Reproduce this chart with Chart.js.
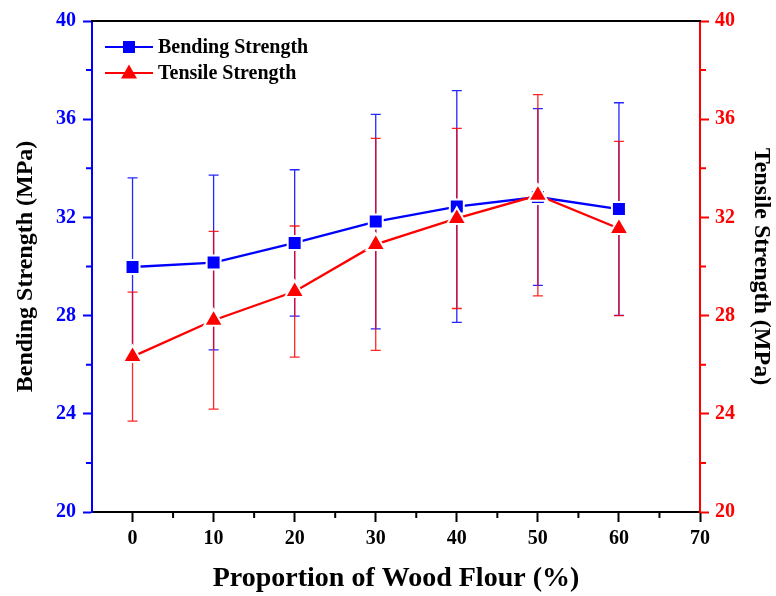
<!DOCTYPE html>
<html><head><meta charset="utf-8">
<script src="https://cdn.jsdelivr.net/npm/chart.js@4/dist/chart.umd.min.js"></script>
<style>html,body{margin:0;padding:0;background:#fff}canvas{display:block}</style>
</head><body>
<canvas id="c" width="776" height="596"></canvas>
<script>
const proportions = [0, 10, 20, 30, 40, 50, 60];
const bendingStrength = [29.98, 30.16, 30.96, 31.83, 32.44, 32.83, 32.34];
const bendingError = [3.63, 3.56, 2.98, 4.37, 4.72, 3.6, 4.33];
const tensileStrength = [26.33, 27.81, 28.98, 30.9, 31.96, 32.9, 31.55];
const tensileError = [2.63, 3.62, 2.67, 4.32, 3.67, 4.1, 3.55];
const xTickValues = [0, 10, 20, 30, 40, 50, 60, 70];
const yTickValues = [20, 24, 28, 32, 36, 40];
const seriesLabels = ['Bending Strength', 'Tensile Strength'];
const xTitle = 'Proportion of Wood Flour (%)';
const yTitle = 'Bending Strength (MPa)';
const y1Title = 'Tensile Strength (MPa)';

const SERIF = "'Liberation Serif', 'Times New Roman', serif";
const BLUE = '#0000FF', RED = '#FF0000';

const errorBarPlugin = {
  id: 'errorBars',
  beforeDatasetsDraw(chart) {
    const ctx = chart.ctx, xs = chart.scales.x;
    chart.data.datasets.forEach(ds => {
      if (!ds.errors) return;
      const ys = chart.scales[ds.yAxisID];
      ctx.save();
      ctx.strokeStyle = ds.borderColor;
      ctx.lineWidth = 1.3;
      ctx.globalAlpha = 0.85;
      ds.data.forEach((p, j) => {
        const x = xs.getPixelForValue(p.x);
        const yt = ys.getPixelForValue(p.y + ds.errors[j]);
        const yb = ys.getPixelForValue(p.y - ds.errors[j]);
        ctx.beginPath();
        ctx.moveTo(x, yt); ctx.lineTo(x, yb);
        ctx.moveTo(x - 5, yt); ctx.lineTo(x + 5, yt);
        ctx.moveTo(x - 5, yb); ctx.lineTo(x + 5, yb);
        ctx.stroke();
      });
      ctx.restore();
    });
  }
};

function marker(ctx, style, x, y, color) {
  ctx.fillStyle = color;
  ctx.beginPath();
  if (style === 'rect') {
    ctx.rect(x - 6, y - 6, 12, 12);
  } else {
    ctx.moveTo(x, y - 8.5); ctx.lineTo(x + 8, y + 5.5); ctx.lineTo(x - 8, y + 5.5); ctx.closePath();
  }
  ctx.fill();
}

const framePlugin = {
  id: 'frame',
  afterDraw(chart) {
    const ctx = chart.ctx, a = chart.chartArea, s = chart.scales;
    ctx.save();
    ctx.lineWidth = 2;
    ctx.strokeStyle = '#000';
    ctx.beginPath(); ctx.moveTo(a.left - 1, a.top); ctx.lineTo(a.right + 1, a.top); ctx.stroke();
    ctx.beginPath();
    for (let i = 0; i < xTickValues.length - 1; i++) {
      const px = s.x.getPixelForValue((xTickValues[i] + xTickValues[i + 1]) / 2);
      ctx.moveTo(px, a.bottom); ctx.lineTo(px, a.bottom + 6);
    }
    ctx.stroke();
    ctx.strokeStyle = BLUE;
    ctx.beginPath();
    for (let i = 0; i < yTickValues.length - 1; i++) {
      const py = s.y.getPixelForValue((yTickValues[i] + yTickValues[i + 1]) / 2);
      ctx.moveTo(a.left, py); ctx.lineTo(a.left - 6, py);
    }
    ctx.stroke();
    ctx.strokeStyle = RED;
    ctx.beginPath();
    for (let i = 0; i < yTickValues.length - 1; i++) {
      const py = s.y1.getPixelForValue((yTickValues[i] + yTickValues[i + 1]) / 2);
      ctx.moveTo(a.right, py); ctx.lineTo(a.right + 6, py);
    }
    ctx.stroke();
    const styles = ['rect', 'triangle'];
    const colors = [BLUE, RED];
    ctx.font = 'bold 20px ' + SERIF;
    ctx.textBaseline = 'middle';
    ctx.textAlign = 'left';
    seriesLabels.forEach((lab, i) => {
      const y = a.top + 26 + i * 26;
      ctx.strokeStyle = colors[i];
      ctx.lineWidth = 2;
      ctx.beginPath(); ctx.moveTo(a.left + 13, y); ctx.lineTo(a.left + 61, y); ctx.stroke();
      marker(ctx, styles[i], a.left + 37, y, colors[i]);
      ctx.fillStyle = '#000';
      ctx.fillText(lab, a.left + 66, y + 1);
    });
    ctx.restore();
  }
};

const tickFont = { family: SERIF, size: 20, weight: 'bold' };
const titleFont = { family: SERIF, size: 24, weight: 'bold' };

new Chart(document.getElementById('c'), {
  type: 'line',
  data: {
    datasets: [
      {
        label: seriesLabels[0],
        data: proportions.map((x, i) => ({ x, y: bendingStrength[i] })),
        errors: bendingError,
        yAxisID: 'y',
        order: 1,
        borderColor: BLUE, backgroundColor: BLUE,
        borderWidth: 2.3,
        pointStyle: 'rect', pointRadius: 9.9,
        pointBackgroundColor: BLUE, pointBorderColor: '#fff', pointBorderWidth: 2,
        tension: 0
      },
      {
        label: seriesLabels[1],
        data: proportions.map((x, i) => ({ x, y: tensileStrength[i] })),
        errors: tensileError,
        yAxisID: 'y1',
        order: 0,
        borderColor: RED, backgroundColor: RED,
        borderWidth: 2.3,
        pointStyle: 'triangle', pointRadius: 11,
        pointBackgroundColor: RED, pointBorderColor: '#fff', pointBorderWidth: 2,
        tension: 0
      }
    ]
  },
  options: {
    responsive: false,
    animation: false,
    events: [],
    layout: { padding: { top: 21, left: 0, right: 0, bottom: 0 } },
    plugins: { legend: { display: false }, tooltip: { enabled: false } },
    scales: {
      x: {
        type: 'linear', min: -5, max: 70,
        afterBuildTicks: sc => { sc.ticks = xTickValues.map(v => ({ value: v })); },
        afterFit: sc => { sc.height = 84; },
        grid: { drawOnChartArea: false, drawTicks: true, tickLength: 10, tickWidth: 2, tickColor: '#000' },
        border: { color: '#000', width: 2 },
        ticks: { color: '#000', font: tickFont, padding: 5, maxRotation: 0, autoSkip: false },
        title: { display: true, text: xTitle, color: '#000', font: { family: SERIF, size: 28, weight: 'bold' }, padding: 0 }
      },
      y: {
        type: 'linear', position: 'left', min: 20, max: 40,
        afterBuildTicks: sc => { sc.ticks = yTickValues.map(v => ({ value: v })); },
        afterFit: sc => { sc.width = 92; },
        grid: { drawOnChartArea: false, drawTicks: true, tickLength: 9, tickWidth: 2, tickColor: BLUE },
        border: { color: BLUE, width: 2 },
        ticks: { color: BLUE, font: tickFont, padding: 7 },
        title: { display: true, text: yTitle, color: '#000', font: titleFont, padding: { top: 11, bottom: 0 } }
      },
      y1: {
        type: 'linear', position: 'right', min: 20, max: 40,
        afterBuildTicks: sc => { sc.ticks = yTickValues.map(v => ({ value: v })); },
        afterFit: sc => { sc.width = 76; },
        grid: { drawOnChartArea: false, drawTicks: true, tickLength: 9, tickWidth: 2, tickColor: RED },
        border: { color: RED, width: 2 },
        ticks: { color: RED, font: tickFont, padding: 6 },
        title: { display: true, text: y1Title, color: '#000', font: titleFont, padding: { top: 0, bottom: 0 } }
      }
    }
  },
  plugins: [errorBarPlugin, framePlugin]
});
</script>
</body></html>
